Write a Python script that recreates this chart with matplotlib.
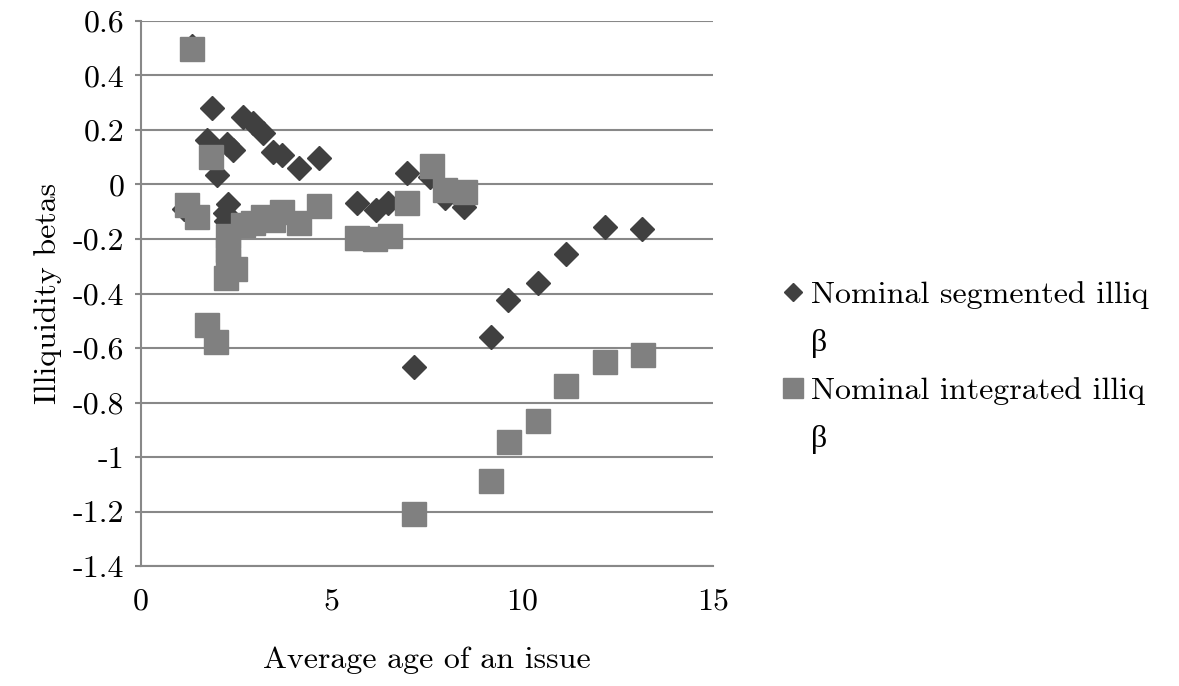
"""
Illiquidity betas against the average age of an issue
"""
import matplotlib
matplotlib.use("Agg")
import matplotlib.pyplot as plt
from matplotlib.lines import Line2D

plt.rcParams['font.family'] = ['cmr10', 'Liberation Serif', 'DejaVu Serif']
plt.rcParams['axes.unicode_minus'] = False

# nominal segmented illiq beta (diamonds)
seg_age = [1.12, 1.34, 1.72, 1.86, 1.98, 2.25, 2.41, 2.28, 2.2, 2.22,
           2.68, 2.94, 3.2, 3.47, 3.7, 4.14, 4.67,
           5.67, 6.16, 6.48, 6.98, 7.16, 7.58, 7.98, 8.47,
           9.17, 9.63, 10.41, 11.15, 12.17, 13.14]
seg_beta = [-0.09, 0.51, 0.163, 0.28, 0.035, 0.15, 0.125, -0.07, -0.105, -0.135,
            0.248, 0.225, 0.19, 0.12, 0.108, 0.06, 0.097,
            -0.068, -0.094, -0.068, 0.042, -0.668, 0.028, -0.05, -0.083,
            -0.561, -0.424, -0.362, -0.255, -0.157, -0.163]

# nominal integrated illiq beta (squares)
int_age = [1.2, 1.34, 1.46, 1.84, 1.72, 1.97, 2.28, 2.28, 2.28, 2.46, 2.23,
           2.68, 2.94, 3.2, 3.46, 3.7, 4.14, 4.67,
           5.67, 6.14, 6.53, 6.98, 7.63, 7.97, 8.5,
           7.16, 9.17, 9.64, 10.41, 11.15, 12.17, 13.16]
int_beta = [-0.075, 0.497, -0.12, 0.102, -0.516, -0.578, -0.19, -0.24, -0.28, -0.31, -0.343,
            -0.149, -0.14, -0.12, -0.13, -0.10, -0.141, -0.08,
            -0.196, -0.2, -0.189, -0.068, 0.068, -0.02, -0.027,
            -1.209, -1.088, -0.945, -0.867, -0.74, -0.651, -0.626]

yticks = [0.6, 0.4, 0.2, 0, -0.2, -0.4, -0.6, -0.8, -1, -1.2, -1.4]
ytick_labels = ['0.6', '0.4', '0.2', '0', '-0.2', '-0.4', '-0.6', '-0.8', '-1', '-1.2', '-1.4']
xticks = [0, 5, 10, 15]

fig = plt.figure(figsize=(11.79, 6.86), dpi=100)
ax = fig.add_axes([0.1196, 0.1749, 0.4851, 0.7945])

seg, = ax.plot(seg_age, seg_beta, linestyle='none', marker='D', ms=12.5,
               color='#404040', mec='#404040', zorder=3)
integ, = ax.plot(int_age, int_beta, linestyle='none', marker='s', ms=17.5,
                 color='#808080', mec='#808080', zorder=3)

ax.set_xlim(0, 15)
ax.set_ylim(-1.4, 0.6)
ax.set_xticks(xticks)
ax.set_xticklabels([str(t) for t in xticks])
ax.set_yticks(yticks)
ax.set_yticklabels(ytick_labels)
ax.tick_params(axis='both', labelsize=23, colors='#000000')
ax.tick_params(axis='x', length=0, pad=16)
ax.tick_params(axis='y', length=4, width=1.5, color='#888888', pad=8)
ax.yaxis.grid(True, color='#888888', linewidth=1.5)
ax.set_axisbelow(True)
for side in ['top', 'right']:
    ax.spines[side].set_visible(False)
for side in ['left', 'bottom']:
    ax.spines[side].set_color('#888888')
    ax.spines[side].set_linewidth(1.5)

ax.set_xlabel('Average age of an issue', fontsize=23, labelpad=22)
ax.set_ylabel('Illiquidity betas', fontsize=23, labelpad=8)

# legend labels wrap onto a second line, so the beta gets its own row
blank = Line2D([], [], linestyle='none')
handles = [seg, blank, integ, blank]
labels = ['Nominal segmented illiq', 'β', 'Nominal integrated illiq', 'β']
leg = fig.legend(handles, labels, loc='upper left', bbox_to_anchor=(0.651, 0.614),
                 frameon=False, fontsize=23, handletextpad=0.25, labelspacing=0.6,
                 handlelength=0.6, borderpad=0, markerscale=0.75)
leg.legend_handles[2].set_markersize(15)

fig.savefig('out.png', dpi=100)
